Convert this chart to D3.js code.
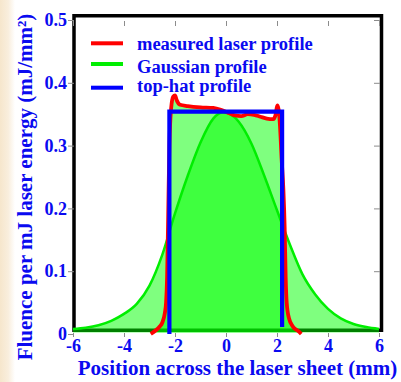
<!DOCTYPE html>
<html>
<head>
<meta charset="utf-8">
<script src="https://cdn.jsdelivr.net/npm/d3@7"></script>
<style>
  html, body { margin: 0; padding: 0; background: #fff; }
  svg { display: block; }
  text { font-family: "Liberation Serif", "Times New Roman", serif; font-weight: bold; fill: #0a0af0; }
</style>
</head>
<body>
<svg id="chart" width="401" height="382"></svg>
<script>
// Gaussian reference profile (mJ/mm² per mJ) across the sheet
const gaussPos = [-6, -5.5, -5, -4.5, -4, -3.5, -3, -2.5, -2, -1.5, -1, -0.5, -0.1, 0.5, 1, 1.5, 2, 2.5, 3, 3.5, 4, 4.5, 5, 5.5, 6];
const gaussVal = [0.008, 0.010, 0.014, 0.021, 0.032, 0.048, 0.077, 0.126, 0.192, 0.252, 0.305, 0.343, 0.353, 0.338, 0.303, 0.252, 0.197, 0.143, 0.095, 0.063, 0.040, 0.025, 0.016, 0.011, 0.008];

// Measured laser sheet profile
const measPos = [-2.95, -2.75, -2.6, -2.5, -2.4, -2.35, -2.31, -2.27, -2.22, -2.15, -2.07, -2.0, -1.93, -1.8, -1.5, -1.0, -0.5, -0.2, 0.1, 0.35, 0.6, 0.85, 1.1, 1.35, 1.6, 1.85, 1.95, 2.01, 2.06, 2.12, 2.18, 2.25, 2.3, 2.34, 2.38, 2.47, 2.62, 2.85, 2.95];
const measVal = [0.0, 0.006, 0.012, 0.018, 0.033, 0.05, 0.09, 0.18, 0.3, 0.36, 0.378, 0.38, 0.372, 0.365, 0.363, 0.361, 0.36, 0.357, 0.352, 0.348, 0.347, 0.35, 0.349, 0.346, 0.343, 0.342, 0.35, 0.364, 0.358, 0.33, 0.28, 0.23, 0.17, 0.09, 0.05, 0.025, 0.012, 0.004, 0.0];

// Ideal top-hat profile
const hatPos = [-2.22, -2.22, 2.2, 2.2];
const hatVal = [0.0, 0.354, 0.354, 0.011];

// Axis ticks
const xTicks = [-6, -4, -2, 0, 2, 4, 6];
const xTickLabels = ["-6", "-4", "-2", "0", "2", "4", "6"];
const yTicks = [0, 0.1, 0.2, 0.3, 0.4, 0.5];
const yTickLabels = ["0", "0.1", "0.2", "0.3", "0.4", "0.5"];

// Legend
const legendNames = ["measured laser profile", "Gaussian profile", "top-hat profile"];
const legendColors = ["#ff0000", "#00ee00", "#0000ff"];

const svg = d3.select("#chart");
const x = d3.scaleLinear().domain([-6, 6]).range([73, 379]);
const y = d3.scaleLinear().domain([0, 0.5]).range([334, 20]);

const defs = svg.append("defs");
const grad = defs.append("linearGradient").attr("id", "edge").attr("x1", 0).attr("x2", 1).attr("y1", 0).attr("y2", 0);
grad.append("stop").attr("offset", 0).attr("stop-color", "#f6e6cc");
grad.append("stop").attr("offset", 0.55).attr("stop-color", "#f9eedd");
grad.append("stop").attr("offset", 1).attr("stop-color", "#ffffff");
defs.append("clipPath").attr("id", "plotclip")
  .append("rect").attr("x", 0).attr("y", 0).attr("width", 401).attr("height", 332.5);

// warm page edge on the left
svg.append("rect").attr("x", 0).attr("y", 0).attr("width", 15).attr("height", 382).attr("fill", "url(#edge)");

// plot frame
svg.append("path")
  .attr("d", "M74,15.7 H381.5 V330.3 H74 Z")
  .attr("fill", "none").attr("stroke", "#000").attr("stroke-width", 3.5);

const gaussData = gaussPos.map((p, i) => [p, gaussVal[i]]);
const measData = measPos.map((p, i) => [p, measVal[i]]);
const hatData = hatPos.map((p, i) => [p, hatVal[i]]);

const area = d3.area().x(d => x(d[0])).y0(y(0)).y1(d => y(d[1])).curve(d3.curveMonotoneX);
const line = d3.line().x(d => x(d[0])).y(d => y(d[1])).curve(d3.curveMonotoneX);

const fills = svg.append("g").attr("clip-path", "url(#plotclip)");
fills.append("path").datum(gaussData).attr("d", area).attr("fill", "#00ff00").attr("fill-opacity", 0.5);
fills.append("path").datum(measData).attr("d", area).attr("fill", "#00ff00").attr("fill-opacity", 0.5);

svg.append("path").datum(gaussData).attr("d", line)
  .attr("fill", "none").attr("stroke", "#00ee00").attr("stroke-width", 2.5);
svg.append("path").datum(measData).attr("d", line)
  .attr("fill", "none").attr("stroke", "#ff0000").attr("stroke-width", 3.8).attr("stroke-linejoin", "round");
svg.append("path").datum(hatData)
  .attr("d", d3.line().x(d => x(d[0])).y(d => y(d[1])))
  .attr("fill", "none").attr("stroke", "#0000ff").attr("stroke-width", 4.2);

// axes
const tickColor = "#8c8c8c";
function styleAxis(g) {
  g.select(".domain").remove();
  g.selectAll(".tick line").attr("stroke", tickColor);
  g.selectAll("text").attr("font-size", 18).attr("font-family", null).attr("fill", null);
}

const xAxis = svg.append("g").attr("transform", "translate(0,333)")
  .call(d3.axisBottom(x).tickValues(xTicks).tickSize(4).tickPadding(2)
    .tickFormat((d, i) => xTickLabels[i]));
styleAxis(xAxis);

const yAxis = svg.append("g").attr("transform", "translate(74,0)")
  .call(d3.axisLeft(y).tickValues(yTicks).tickSize(6).tickPadding(1)
    .tickFormat((d, i) => yTickLabels[i]));
styleAxis(yAxis);

const topAxis = svg.append("g").attr("transform", "translate(0,21)")
  .call(d3.axisBottom(x).tickValues(xTicks).tickSize(5).tickFormat(""));
styleAxis(topAxis);

const rightAxis = svg.append("g").attr("transform", "translate(380,0)")
  .call(d3.axisLeft(y).tickValues(yTicks.slice(1)).tickSize(6).tickFormat(""));
styleAxis(rightAxis);

// legend
const legendLineY = [43.3, 64, 87.7];
const legendTextY = [49.5, 72.5, 92];
legendNames.forEach((name, i) => {
  svg.append("line").attr("x1", 91).attr("x2", 123)
    .attr("y1", legendLineY[i]).attr("y2", legendLineY[i])
    .attr("stroke", legendColors[i]).attr("stroke-width", 4);
  svg.append("text").attr("x", 137).attr("y", legendTextY[i])
    .attr("font-size", 18.5).text(name);
});

// axis titles
svg.append("text").attr("x", 237.5).attr("y", 375).attr("text-anchor", "middle")
  .attr("font-size", 21).text("Position across the laser sheet (mm)");
svg.append("text").attr("transform", "translate(32,187) rotate(-90)").attr("text-anchor", "middle")
  .attr("font-size", 21).text("Fluence per mJ laser energy (mJ/mm²)");
</script>
</body>
</html>
